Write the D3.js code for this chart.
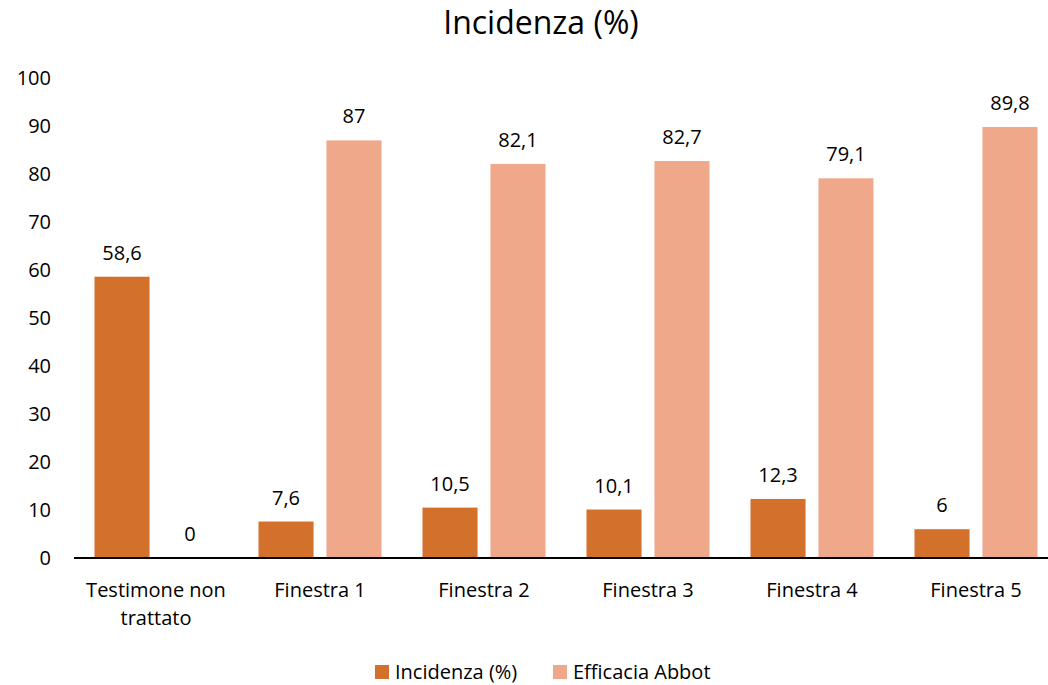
<!DOCTYPE html>
<html>
<head>
<meta charset="utf-8">
<script src="https://cdn.jsdelivr.net/npm/d3@7"></script>
<style>
  html, body { margin: 0; padding: 0; background: #fff; }
  svg text { font-family: "Open Sans", Lato, sans-serif; fill: #000; }
</style>
</head>
<body>
<svg id="chart" width="1048" height="685"></svg>
<script>
// Treatments (x categories)
const categories = ["Testimone non trattato", "Finestra 1", "Finestra 2", "Finestra 3", "Finestra 4", "Finestra 5"];
// Series
const seriesNames = ["Incidenza (%)", "Efficacia Abbot"];
const incidenza = [58.6, 7.6, 10.5, 10.1, 12.3, 6];
const efficacia = [0, 87, 82.1, 82.7, 79.1, 89.8];
const yTicks = [0, 10, 20, 30, 40, 50, 60, 70, 80, 90, 100];
const colors = ["#D3702C", "#F0A88A"];

const svg = d3.select("#chart");
const margin = { left: 74, right: -10, top: 78, bottom: 127 };
const W = 1048, H = 685;
const FONT = "'Open Sans', Lato, sans-serif";

const x0 = d3.scaleBand().domain(categories).range([margin.left, W - margin.right]).padding(0);
const x1 = d3.scaleBand().domain(seriesNames)
  .range([x0.bandwidth() * 0.125, x0.bandwidth() * 0.875]).paddingInner(0.19);
const y = d3.scaleLinear().domain([0, 100]).range([H - margin.bottom, margin.top]);

const rows = categories.map((c, i) => ({ cat: c, vals: [incidenza[i], efficacia[i]] }));

// Title
svg.append("text").attr("x", 541).attr("y", 34).attr("text-anchor", "middle")
  .style("font-size", "32px").text("Incidenza (%)");

// Y axis labels (no axis line)
const yAxis = svg.append("g").attr("transform", `translate(${margin.left},0)`)
  .call(d3.axisLeft(y).tickValues(yTicks).tickSize(0).tickPadding(23));
yAxis.select(".domain").remove();
yAxis.selectAll("text").style("font-size", "20px").style("font-family", FONT);

// Bars
const groups = svg.append("g").selectAll("g").data(rows).join("g")
  .attr("transform", d => `translate(${x0(d.cat)},0)`);

groups.selectAll("rect").data(d => d.vals.map((v, k) => ({ v, k }))).join("rect")
  .attr("x", d => x1(seriesNames[d.k]))
  .attr("width", x1.bandwidth())
  .attr("y", d => y(d.v))
  .attr("height", d => y(0) - y(d.v))
  .attr("fill", d => colors[d.k]);

// Value labels
groups.selectAll("text.val").data(d => d.vals.map((v, k) => ({ v, k }))).join("text")
  .attr("class", "val")
  .attr("x", d => x1(seriesNames[d.k]) + x1.bandwidth() / 2)
  .attr("y", d => y(d.v) - 17)
  .attr("text-anchor", "middle")
  .style("font-size", "20px")
  .text(d => String(d.v).replace(".", ","));

// X axis baseline
svg.append("line").attr("x1", margin.left).attr("x2", W - margin.right)
  .attr("y1", y(0)).attr("y2", y(0)).attr("stroke", "#000").attr("stroke-width", 2);

// Category labels (wrapped)
const wrap = { "Testimone non trattato": ["Testimone non", "trattato"] };
const xl = svg.append("g");
categories.forEach(c => {
  const lines = wrap[c] || [c];
  const t = xl.append("text").attr("text-anchor", "middle").style("font-size", "20px");
  lines.forEach((ln, i) => {
    t.append("tspan").attr("x", x0(c) + x0.bandwidth() / 2).attr("y", 597 + i * 28).text(ln);
  });
});

// Legend
const legend = svg.append("g");
const legendItems = [{ name: seriesNames[0], x: 375 }, { name: seriesNames[1], x: 553 }];
legendItems.forEach((it, k) => {
  legend.append("rect").attr("x", it.x).attr("y", 665).attr("width", 14).attr("height", 14).attr("fill", colors[k]);
  legend.append("text").attr("x", it.x + 20).attr("y", 679).style("font-size", "20px").text(it.name);
});
</script>
</body>
</html>
